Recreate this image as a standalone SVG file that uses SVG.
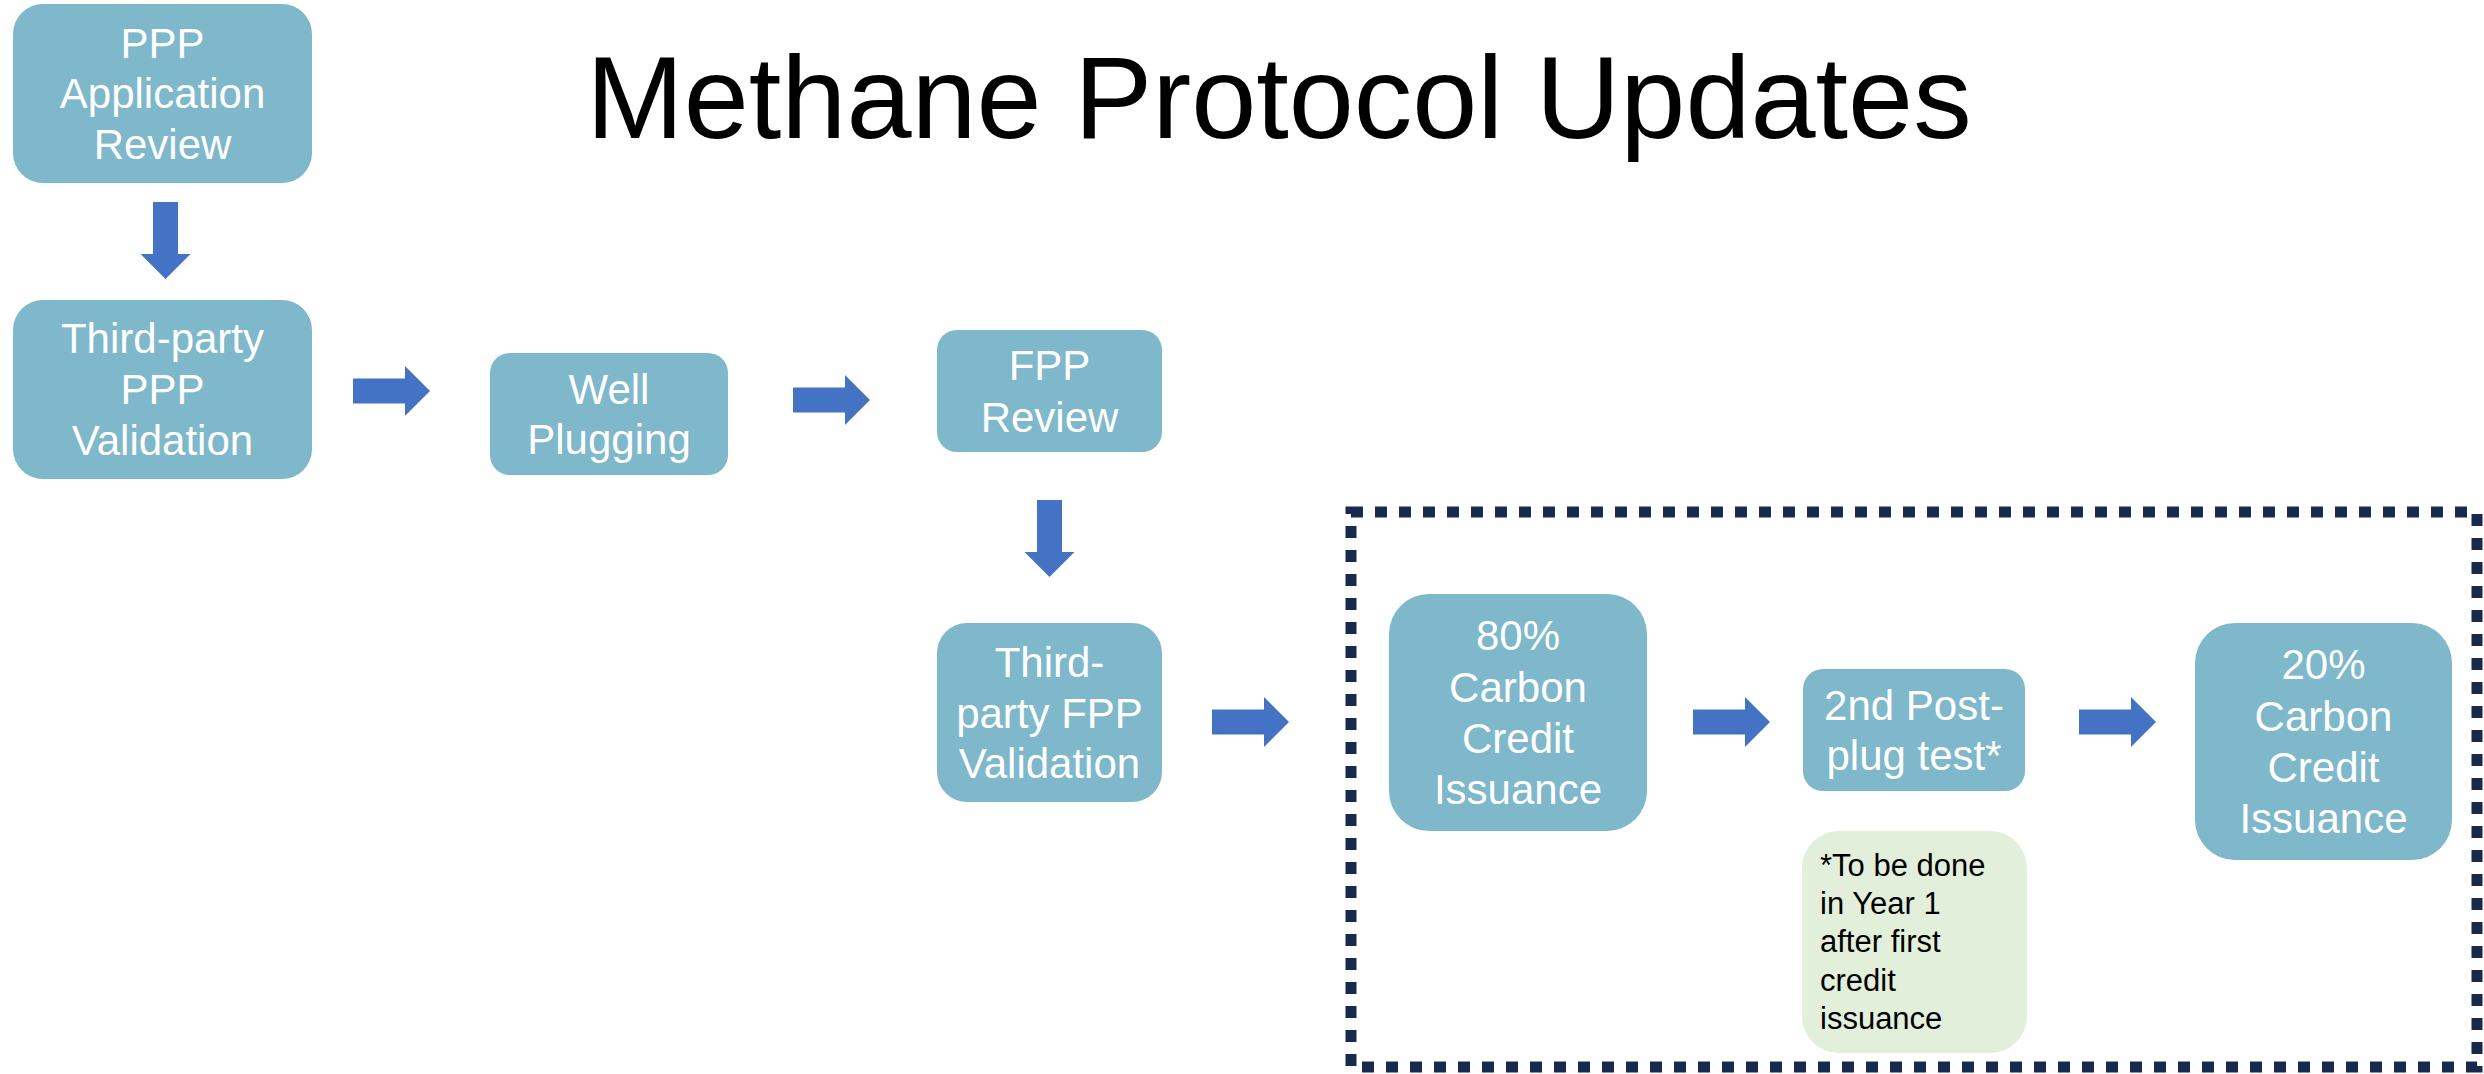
<svg xmlns="http://www.w3.org/2000/svg" width="2484" height="1074" viewBox="0 0 2484 1074">
<defs>
<style>
.box{fill:#7EB8CA;}
.note{fill:#E2EFDA;}
.t{font-family:"Liberation Sans",Arial,sans-serif;font-size:42px;fill:#FFFFFF;text-anchor:middle;}
.n{font-family:"Liberation Sans",Arial,sans-serif;font-size:31px;fill:#000000;}
.arr{fill:#4472C4;}
.title{font-family:"Liberation Sans",Arial,sans-serif;font-size:117px;fill:#000000;text-anchor:middle;}
</style>
<path id="ar" d="M0,-12.5 H52 V-25 L77,0 L52,25 V12.5 H0 Z"/>
</defs>
<rect width="2484" height="1074" fill="#FFFFFF"/>
<text class="title" x="1279" y="138">Methane Protocol Updates</text>
<rect x="1351" y="512" width="1126" height="555" fill="none" stroke="#172A4E" stroke-width="11" stroke-dasharray="12 12"/>
<g id="connectors">
<use href="#ar" class="arr" transform="translate(165.5,202) rotate(90)"/>
<use href="#ar" class="arr" transform="translate(353,391)"/>
<use href="#ar" class="arr" transform="translate(793,400)"/>
<use href="#ar" class="arr" transform="translate(1049.5,500) rotate(90)"/>
<use href="#ar" class="arr" transform="translate(1212,722)"/>
<use href="#ar" class="arr" transform="translate(1693,722)"/>
<use href="#ar" class="arr" transform="translate(2079,722)"/>
</g>
<g id="ppp-review">
<rect class="box" x="13" y="4" width="299" height="179" rx="30"/>
<text class="t" x="162.5" y="58">PPP</text>
<text class="t" x="162.5" y="108">Application</text>
<text class="t" x="162.5" y="159">Review</text>
</g>
<g id="ppp-validation">
<rect class="box" x="13" y="300" width="299" height="179" rx="30"/>
<text class="t" x="162.5" y="353">Third-party</text>
<text class="t" x="162.5" y="404">PPP</text>
<text class="t" x="162.5" y="455">Validation</text>
</g>
<g id="well-plugging">
<rect class="box" x="490" y="353" width="238" height="122" rx="20"/>
<text class="t" x="609" y="404">Well</text>
<text class="t" x="609" y="454">Plugging</text>
</g>
<g id="fpp-review">
<rect class="box" x="937" y="330" width="225" height="122" rx="20"/>
<text class="t" x="1049.5" y="380">FPP</text>
<text class="t" x="1049.5" y="432">Review</text>
</g>
<g id="fpp-validation">
<rect class="box" x="937" y="623" width="225" height="179" rx="30"/>
<text class="t" x="1049.5" y="677">Third-</text>
<text class="t" x="1049.5" y="728">party FPP</text>
<text class="t" x="1049.5" y="778">Validation</text>
</g>
<g id="credit-80">
<rect class="box" x="1389" y="594" width="258" height="237" rx="40"/>
<text class="t" x="1518" y="650">80%</text>
<text class="t" x="1518" y="702">Carbon</text>
<text class="t" x="1518" y="753">Credit</text>
<text class="t" x="1518" y="804">Issuance</text>
</g>
<g id="post-plug-test">
<rect class="box" x="1803" y="669" width="222" height="122" rx="20"/>
<text class="t" x="1914" y="720">2nd Post-</text>
<text class="t" x="1914" y="770">plug test*</text>
</g>
<g id="note">
<rect class="note" x="1802" y="831" width="225" height="222" rx="37"/>
<text class="n" x="1820" y="876">*To be done</text>
<text class="n" x="1820" y="914">in Year 1</text>
<text class="n" x="1820" y="952">after first</text>
<text class="n" x="1820" y="991">credit</text>
<text class="n" x="1820" y="1029">issuance</text>
</g>
<g id="credit-20">
<rect class="box" x="2195" y="623" width="257" height="237" rx="40"/>
<text class="t" x="2323.5" y="679">20%</text>
<text class="t" x="2323.5" y="731">Carbon</text>
<text class="t" x="2323.5" y="782">Credit</text>
<text class="t" x="2323.5" y="833">Issuance</text>
</g>
</svg>
